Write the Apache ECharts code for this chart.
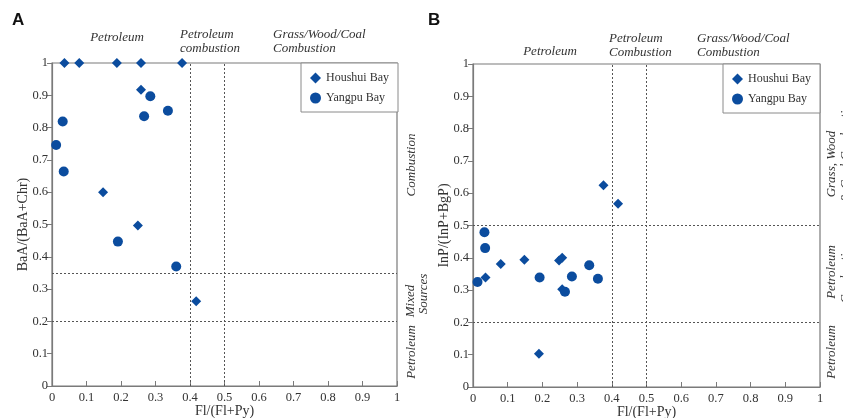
<!DOCTYPE html>
<html><head><meta charset="utf-8">
<script src="https://cdn.jsdelivr.net/npm/echarts@6/dist/echarts.min.js"></script>
<style>html,body{margin:0;padding:0;background:#fff}#c{width:843px;height:418px}</style>
</head><body><div id="c"></div>
<script>
// ---- data ----
const seriesNames = ['Houshui Bay', 'Yangpu Bay'];
const xTicks = [0, 0.1, 0.2, 0.3, 0.4, 0.5, 0.6, 0.7, 0.8, 0.9, 1];
const yTicks = [0, 0.1, 0.2, 0.3, 0.4, 0.5, 0.6, 0.7, 0.8, 0.9, 1];
// Panel A: Fl/(Fl+Py) vs BaA/(BaA+Chr)
const aHoushuiX = [0.036, 0.079, 0.188, 0.258, 0.377, 0.258, 0.148, 0.249, 0.418];
const aHoushuiY = [1, 1, 1, 1, 1, 0.917, 0.600, 0.497, 0.262];
const aYangpuX = [0.285, 0.267, 0.336, 0.031, 0.012, 0.034, 0.191, 0.360];
const aYangpuY = [0.897, 0.835, 0.852, 0.819, 0.746, 0.664, 0.447, 0.370];
// Panel B: Fl/(Fl+Py) vs InP/(InP+BgP)
const bHoushuiX = [0.376, 0.418, 0.080, 0.148, 0.248, 0.257, 0.036, 0.190, 0.257];
const bHoushuiY = [0.625, 0.567, 0.381, 0.394, 0.392, 0.400, 0.339, 0.103, 0.303];
const bYangpuX = [0.033, 0.035, 0.013, 0.192, 0.285, 0.335, 0.360, 0.265];
const bYangpuY = [0.479, 0.430, 0.325, 0.339, 0.342, 0.377, 0.335, 0.295];
// threshold lines
const xThresholds = [0.4, 0.5];
const aYThresholds = [0.35, 0.2];
const bYThresholds = [0.5, 0.2];

const zip = (xs, ys) => xs.map((x, i) => [x, ys[i]]);
const SERIF = '"Liberation Serif", "DejaVu Serif", serif';
const BLUE = '#0b4c9e';
const AX = '#7a7a7a';
const TXT = '#333';

function xAxis(gi) {
  return {
    type: 'value', gridIndex: gi, min: 0, max: 1, interval: 0.1,
    name: 'Fl/(Fl+Py)', nameLocation: 'middle', nameGap: 18, nameMoveOverlap: false,
    nameTextStyle: { fontFamily: SERIF, fontSize: 14, color: TXT },
    axisLine: { show: true, onZero: false, lineStyle: { color: AX, width: 1.2 } },
    axisTick: { show: true, inside: true, length: 5, lineStyle: { color: AX } },
    axisLabel: { fontFamily: SERIF, fontSize: 12.5, color: TXT, margin: 5,
      formatter: v => String(+v.toFixed(1)) },
    splitLine: { show: false }
  };
}
function yAxis(gi, name) {
  return {
    type: 'value', gridIndex: gi, min: 0, max: 1, interval: 0.1,
    name: name, nameLocation: 'middle', nameGap: 22, nameMoveOverlap: false,
    nameTextStyle: { fontFamily: SERIF, fontSize: 14, color: TXT },
    axisLine: { show: true, onZero: false, lineStyle: { color: AX, width: 1.2 } },
    axisTick: { show: true, inside: false, length: 5, lineStyle: { color: AX } },
    axisLabel: { fontFamily: SERIF, fontSize: 12.5, color: TXT, margin: 4,
      formatter: v => String(+v.toFixed(1)) },
    splitLine: { show: false }
  };
}
function markLines(yThr) {
  return {
    silent: true, symbol: 'none', label: { show: false },
    lineStyle: { color: '#555', type: [2, 2], width: 1 },
    data: xThresholds.map(v => ({ xAxis: v })).concat(yThr.map(v => ({ yAxis: v })))
  };
}
function sc(name, gi, data, symbol, size, ml) {
  const s = {
    name: name, type: 'scatter', xAxisIndex: gi, yAxisIndex: gi,
    symbol: symbol, symbolSize: size, clip: false,
    itemStyle: { color: BLUE, opacity: 1 }, data: data, z: 5
  };
  if (ml) s.markLine = ml;
  return s;
}
function legend(left, top) {
  return {
    orient: 'vertical', left: left, top: top,
    padding: [9, 9, 8, 9], itemGap: 8, itemWidth: 11, itemHeight: 11,
    backgroundColor: '#fff', borderColor: '#8a8a8a', borderWidth: 1,
    textStyle: { fontFamily: SERIF, fontSize: 12, color: TXT },
    data: [{ name: seriesNames[0], icon: 'diamond' }, { name: seriesNames[1], icon: 'circle' }]
  };
}
function txt(x, y, s, opt) {
  return Object.assign({
    type: 'text', x: x, y: y,
    style: Object.assign({ text: s, fill: TXT, font: 'italic 13px ' + SERIF,
      align: 'center', verticalAlign: 'middle' }, (opt && opt.style) || {})
  }, opt && opt.rotation !== undefined ? { rotation: opt.rotation } : {});
}
const R = Math.PI / 2;
const topFont = 'italic 13px ' + SERIF;

const option = {
  animation: false,
  backgroundColor: '#fff',
  grid: [
    { left: 52, top: 63, width: 345, height: 323, outerBoundsMode: 'none', containLabel: false, show: true, borderColor: AX, borderWidth: 1.2, backgroundColor: 'transparent' },
    { left: 473, top: 64, width: 347, height: 323, outerBoundsMode: 'none', containLabel: false, show: true, borderColor: AX, borderWidth: 1.2, backgroundColor: 'transparent' }
  ],
  xAxis: [xAxis(0), xAxis(1)],
  yAxis: [yAxis(0, 'BaA/(BaA+Chr)'), yAxis(1, 'InP/(InP+BgP)')],
  legend: [legend(301, 63), legend(723, 64)],
  series: [
    sc(seriesNames[0], 0, zip(aHoushuiX, aHoushuiY), 'diamond', 10, markLines(aYThresholds)),
    sc(seriesNames[1], 0, zip(aYangpuX, aYangpuY), 'circle', 10),
    sc(seriesNames[0], 1, zip(bHoushuiX, bHoushuiY), 'diamond', 10, markLines(bYThresholds)),
    sc(seriesNames[1], 1, zip(bYangpuX, bYangpuY), 'circle', 10)
  ],
  graphic: [
    { type: 'text', x: 12, y: 12, style: { text: 'A', font: 'bold 17px "Liberation Sans", Arial, sans-serif', fill: '#111' } },
    { type: 'text', x: 428, y: 12, style: { text: 'B', font: 'bold 17px "Liberation Sans", Arial, sans-serif', fill: '#111' } },
    // panel A top labels
    { type: 'text', x: 117, y: 38, style: { text: 'Petroleum', font: topFont, fill: TXT, align: 'center', verticalAlign: 'middle' } },
    { type: 'text', x: 180, y: 42, style: { text: 'Petroleum\ncombustion', font: topFont, fill: TXT, align: 'left', verticalAlign: 'middle', lineHeight: 14 } },
    { type: 'text', x: 273, y: 42, style: { text: 'Grass/Wood/Coal\nCombustion', font: topFont, fill: TXT, align: 'left', verticalAlign: 'middle', lineHeight: 14 } },
    // panel B top labels
    { type: 'text', x: 550, y: 52, style: { text: 'Petroleum', font: topFont, fill: TXT, align: 'center', verticalAlign: 'middle' } },
    { type: 'text', x: 609, y: 46, style: { text: 'Petroleum\nCombustion', font: topFont, fill: TXT, align: 'left', verticalAlign: 'middle', lineHeight: 14 } },
    { type: 'text', x: 697, y: 46, style: { text: 'Grass/Wood/Coal\nCombustion', font: topFont, fill: TXT, align: 'left', verticalAlign: 'middle', lineHeight: 14 } },
    // panel A right labels
    txt(412, 165, 'Combustion', { rotation: R }),
    txt(411, 301, 'Mixed', { rotation: R }),
    txt(424, 294, 'Sources', { rotation: R }),
    txt(412, 352, 'Petroleum', { rotation: R }),
    // panel B right labels
    txt(832, 164, 'Grass, Wood', { rotation: R }),
    txt(846, 150, '& Coal Combustion', { rotation: R }),
    txt(832, 272, 'Petroleum', { rotation: R }),
    txt(846, 272, 'Combustion', { rotation: R }),
    txt(832, 352, 'Petroleum', { rotation: R })
  ]
};
const chart = echarts.init(document.getElementById('c'), null, { renderer: 'canvas' });
chart.setOption(option);
</script></body></html>
